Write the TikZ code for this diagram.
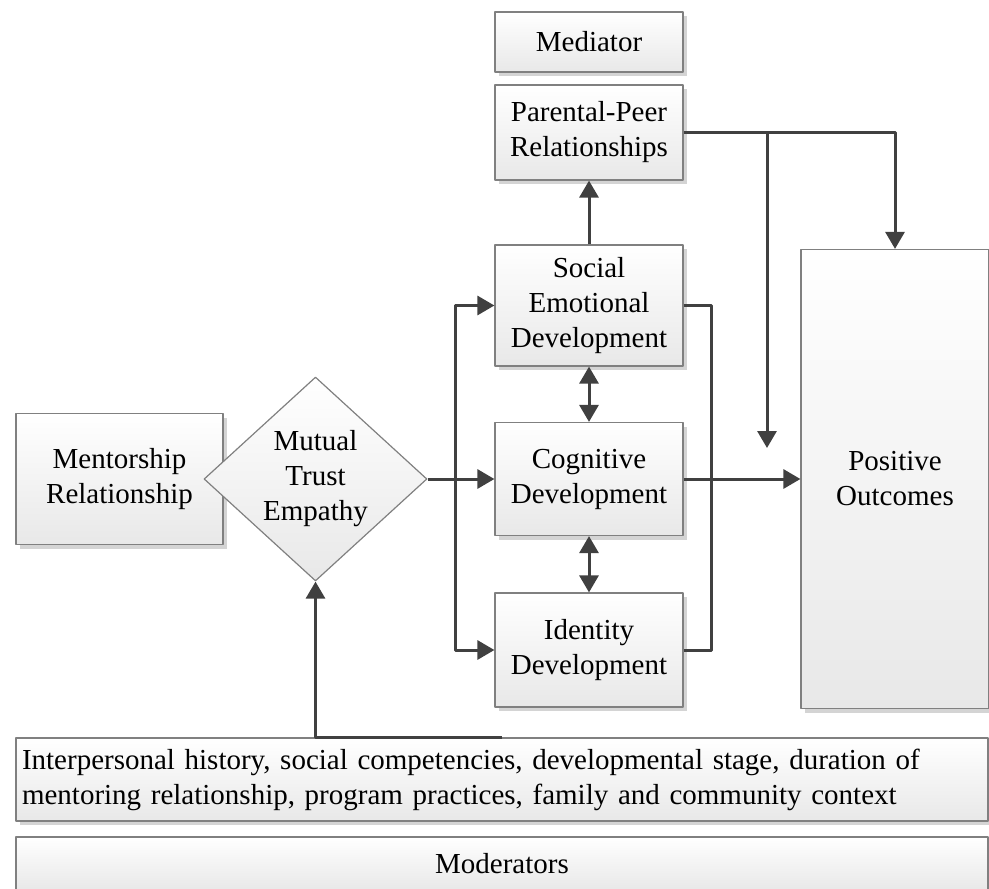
\documentclass[tikz,border=0pt]{standalone}
\usepackage{fontspec}
\setmainfont{Liberation Serif}
\usetikzlibrary{arrows.meta,shapes.geometric,shadows}

\definecolor{linegray}{HTML}{404040}
\definecolor{boxedge}{HTML}{808080}

\begin{document}
\begin{tikzpicture}[x=0.5pt,y=-0.5pt,>={Triangle[length=8.5pt,width=9.5pt]},line join=round,
  box/.style={draw=boxedge,line width=0.6pt,top color=white,bottom color=black!9,
    drop shadow={shadow xshift=2pt,shadow yshift=-2pt,fill=black!17,opacity=1},
    align=center,inner sep=2pt,font=\fontsize{14.5}{17.5}\selectfont},
  gem/.style={diamond,draw=boxedge,line width=0.6pt,top color=white,bottom color=black!9,
    aspect=1.09,inner sep=0pt,align=center,font=\fontsize{14.5}{17.5}\selectfont},
  link/.style={draw=linegray,line width=1.5pt}]
  \useasboundingbox (0,0) rectangle (989,888);
  % boxes
  \node[box,minimum width=94pt,minimum height=30pt] (med) at (589,42) {Mediator};
  \node[box,minimum width=94pt,minimum height=47.5pt] (pp) at (589,132.5) {Parental-Peer\\Relationships};
  \node[box,minimum width=94pt,minimum height=60.5pt] (se) at (589,305.5) {Social\\Emotional\\Development};
  \node[box,minimum width=94pt,minimum height=56.5pt] (cog) at (589,479) {Cognitive\\Development};
  \node[box,minimum width=94pt,minimum height=57pt] (idn) at (589,650) {Identity\\Development};
  \node[box,minimum width=103.5pt,minimum height=65.5pt] (ment) at (119.5,479) {Mentorship\\Relationship};
  \node[gem,minimum width=111.5pt,minimum height=102pt] (dia) at (315.5,479) {Mutual\\Trust\\Empathy};
  \node[box,minimum width=94pt,minimum height=229.5pt] (pos) at (895,479) {Positive\\Outcomes};
  \node[box,align=left,text width=480pt,inner xsep=3pt,minimum height=41.5pt] (ctx) at (502,779.5)
    {Interpersonal history, social competencies, developmental stage, duration of\\mentoring relationship, program practices, family and community context};
  \node[box,minimum width=486pt,minimum height=26.5pt] (mod) at (502,863.5) {Moderators};
  % connectors
  \coordinate (busL) at (455,479);
  \coordinate (drop) at (767,448);
  \draw[link,->] (dia.east) -- (cog.west);
  \draw[link,->] (busL) |- (se.west);
  \draw[link,->] (busL) |- (idn.west);
  \draw[link] (se.east) -- ++(28,0) |- (idn.east);
  \draw[link,->] (cog.east) -- (pos.west);
  \draw[link,->] (pp.east) -| (pos.north);
  \draw[link,->] (pp.east -| drop) -- (drop);
  \draw[link,->] (se.north) -- (pp.south);
  \draw[link,<->] (se.south) -- (cog.north);
  \draw[link,<->] (cog.south) -- (idn.north);
  \draw[link,->] (ctx.north) -| (dia.south);
\end{tikzpicture}
\end{document}
